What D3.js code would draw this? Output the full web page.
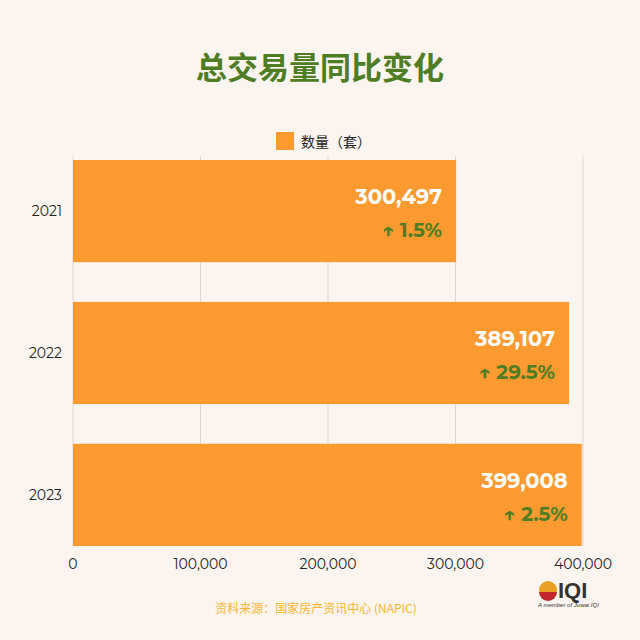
<!DOCTYPE html>
<html><head><meta charset="utf-8">
<script src="https://cdn.jsdelivr.net/npm/d3@7"></script>
<style>body{margin:0;background:#fcf4ef;}</style>
</head><body>
<svg id="chart" width="640" height="640"></svg>
<script>
var years = ["2021", "2022", "2023"],
  counts = [300497, 389107, 399008],
  growth = ["1.5%", "29.5%", "2.5%"],
  ticks = [0, 100000, 200000, 300000, 400000];

var svg = d3.select("#chart"),
  cjk = "'Noto Sans CJK SC', sans-serif",
  num = "Montserrat, 'Open Sans', sans-serif",
  orange = "#fe9a2f",
  green = "#4e7d24";

svg.append("rect").attr("width", 640).attr("height", 640).attr("fill", "#fcf4ef");

var x = d3.scaleLinear().domain([0, 400000]).range([73, 583]);
var y = d3.scaleBand().domain(years).range([160, 546]).paddingInner(0.28).paddingOuter(0);

// grid
svg.append("g").selectAll("line").data(ticks).enter().append("line")
  .attr("x1", d => x(d)).attr("x2", d => x(d))
  .attr("y1", 156).attr("y2", 546)
  .attr("stroke", "#dcd6d2").attr("stroke-width", 1);

svg.append("text").attr("x", 320).attr("y", 79).attr("text-anchor", "middle")
  .attr("font-family", cjk).attr("font-weight", 700).attr("font-size", 31)
  .attr("fill", green).text("总交易量同比变化");

svg.append("rect").attr("x", 276).attr("y", 132).attr("width", 18).attr("height", 18).attr("fill", orange);
svg.append("text").attr("x", 301).attr("y", 147).attr("font-family", cjk)
  .attr("font-size", 14).attr("fill", "#222").text("数量（套）");

var g = svg.append("g").selectAll("g").data(years).enter().append("g");
g.append("rect").attr("x", x(0)).attr("y", d => y(d))
  .attr("width", (d, i) => x(counts[i]) - x(0)).attr("height", y.bandwidth())
  .attr("fill", orange);
g.append("text").attr("x", (d, i) => x(counts[i]) - 14).attr("y", d => y(d) + 44)
  .attr("text-anchor", "end").attr("font-family", num).attr("font-weight", 700)
  .attr("font-size", 21).attr("fill", "#fff")
  .text((d, i) => d3.format(",")(counts[i]));
g.append("text").attr("x", (d, i) => x(counts[i]) - 14).attr("y", d => y(d) + 77)
  .attr("text-anchor", "end").attr("font-family", num).attr("font-weight", 700)
  .attr("font-size", 20).attr("fill", green)
  .text((d, i) => "↑ " + growth[i]);

svg.append("g").selectAll("text").data(years).enter().append("text")
  .attr("x", 62).attr("y", d => y(d) + y.bandwidth() / 2 + 5).attr("text-anchor", "end")
  .attr("font-family", num).attr("font-size", 14).attr("fill", "#222").text(d => d);

svg.append("g").selectAll("text").data(ticks).enter().append("text")
  .attr("x", d => x(d)).attr("y", 569).attr("text-anchor", "middle")
  .attr("font-family", num).attr("font-size", 14).attr("fill", "#222")
  .text(d => d3.format(",")(d));

svg.append("text").attr("x", 316).attr("y", 613).attr("text-anchor", "middle")
  .attr("font-family", cjk).attr("font-size", 12).attr("fill", "#f8b733")
  .text("资料来源：国家房产资讯中心 (NAPIC)");

// logo
svg.append("circle").attr("cx", 548).attr("cy", 590).attr("r", 9).attr("fill", "#e9a126");
svg.append("path").attr("d", "M539,592 A9,9 0 0 0 557,592 Z").attr("fill", "#c1272d");
svg.append("text").attr("x", 558).attr("y", 598).attr("font-family", "Arial, sans-serif")
  .attr("font-weight", 900).attr("font-size", 22).attr("fill", "#333").text("IQI");
svg.append("text").attr("x", 538).attr("y", 607).attr("font-family", "Arial, sans-serif")
  .attr("font-style", "italic").attr("font-size", 6).attr("fill", "#333").text("A member of Juwai IQI");
</script>
</body></html>
